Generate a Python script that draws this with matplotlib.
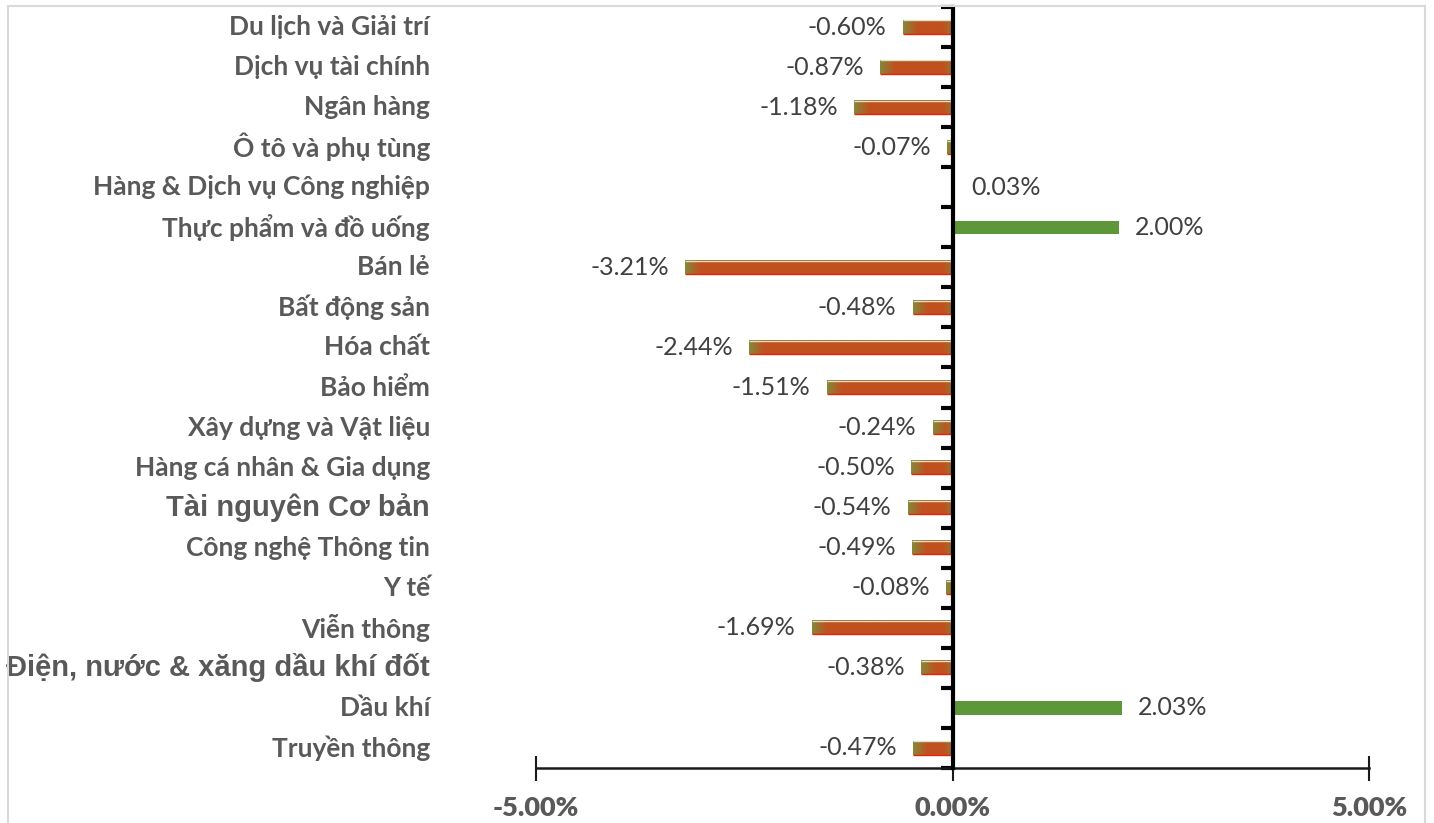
import numpy as np
import matplotlib.pyplot as plt
from matplotlib.patches import Rectangle
from matplotlib.colors import to_rgb

# Data (top to bottom as shown)
sectors = [
    "Du lịch và Giải trí",
    "Dịch vụ tài chính",
    "Ngân hàng",
    "Ô tô và phụ tùng",
    "Hàng & Dịch vụ Công nghiệp",
    "Thực phẩm và đồ uống",
    "Bán lẻ",
    "Bất động sản",
    "Hóa chất",
    "Bảo hiểm",
    "Xây dựng và Vật liệu",
    "Hàng cá nhân & Gia dụng",
    "Tài nguyên Cơ bản",
    "Công nghệ Thông tin",
    "Y tế",
    "Viễn thông",
    "Điện, nước & xăng dầu khí đốt",
    "Dầu khí",
    "Truyền thông",
]
changes = [-0.60, -0.87, -1.18, -0.07, 0.03, 2.00, -3.21, -0.48, -2.44, -1.51,
           -0.24, -0.50, -0.54, -0.49, -0.08, -1.69, -0.38, 2.03, -0.47]
# labels drawn in a different (larger, Arial-like) font in the original
odd_font = ["Tài nguyên Cơ bản", "Điện, nước & xăng dầu khí đốt"]
x_ticks = [-5, 0, 5]

W, H = 1434, 823
fig = plt.figure(figsize=(W / 100, H / 100), dpi=100)
ax = fig.add_axes([536 / W, 55 / H, 833 / W, 761 / H])

# light grey chart frame
fig.patches.append(Rectangle((8 / W, -0.05), 1417 / W, 1.0 - 6 / H + 0.05,
                             transform=fig.transFigure, fill=False,
                             edgecolor="#D9D9D9", linewidth=1.5))

pos_color = "#5E963A"
red = np.array(to_rgb("#C0501F"))
olive = np.array(to_rgb("#86873A"))
bar_h = 0.33
ypos = np.arange(len(sectors))

for y, v in zip(ypos, changes):
    if v >= 0:
        ax.barh(y, v, height=bar_h, color=pos_color, zorder=2)
    else:
        # soft olive edge fading into orange-red
        xs = np.linspace(v, 0, 300)
        t = np.clip((xs - v) / 0.18, 0, 1)
        t = np.minimum(t, np.clip(-xs / 0.12, 0, 1) * 0.6 + 0.4)
        cols = olive[None, :] * (1 - t[:, None]) + red[None, :] * t[:, None]
        img = np.repeat(cols[None, :, :], 2, axis=0)
        ax.imshow(img, extent=(v, 0, y + bar_h / 2, y - bar_h / 2),
                  aspect="auto", interpolation="bilinear", zorder=2)
        ax.plot([v, 0], [y + bar_h / 2, y + bar_h / 2], color="#E8200C",
                lw=1.0, zorder=3, solid_capstyle="butt")
        ax.plot([v, 0], [y - bar_h / 2, y - bar_h / 2], color="#D6E8C8",
                lw=1.0, zorder=3, solid_capstyle="butt")

    off = 16 if v >= 0 else -16
    ax.annotate(f"{v:.2f}%", (v, y), xytext=(off * 0.72, 0),
                textcoords="offset points", va="center",
                ha="left" if v >= 0 else "right",
                fontsize=18, color="#404040", family=["Lato", "DejaVu Sans"])

ax.set_xlim(-5, 5)
ax.set_ylim(len(sectors) - 0.5, -0.5)

for s in ["top", "right"]:
    ax.spines[s].set_visible(False)
ax.spines["left"].set_position(("data", 0))
ax.spines["left"].set_linewidth(3)
ax.spines["left"].set_zorder(4)
ax.spines["bottom"].set_linewidth(1.8)
ax.spines["bottom"].set_color("#1A1A1A")

ax.set_yticks(np.arange(len(sectors) + 1) - 0.5)
ax.set_yticklabels([])
ax.tick_params(axis="y", direction="out", length=9, width=3, color="black")

ax.set_xticks(x_ticks)
ax.set_xticklabels([f"{t:.2f}%" for t in x_ticks],
                   fontdict={"family": ["Lato", "DejaVu Sans"],
                             "weight": "heavy", "size": 19.5,
                             "color": "#595959"})
ax.tick_params(axis="x", direction="inout", length=18, width=1.5,
               color="#1A1A1A", pad=11)

# category labels, right-aligned left of the plot area
tx = (430 - 536) / 833
for y, name in zip(ypos, sectors):
    if name in odd_font:
        ax.text(tx, y, name, transform=ax.get_yaxis_transform(), ha="right",
                va="center", fontsize=21, fontweight="bold", color="#595959",
                family=["Liberation Sans", "DejaVu Sans"])
    else:
        ax.text(tx, y, name, transform=ax.get_yaxis_transform(), ha="right",
                va="center", fontsize=19, fontweight="bold", color="#595959",
                family=["Lato", "DejaVu Sans"])

fig.savefig("out.png", dpi=100)
